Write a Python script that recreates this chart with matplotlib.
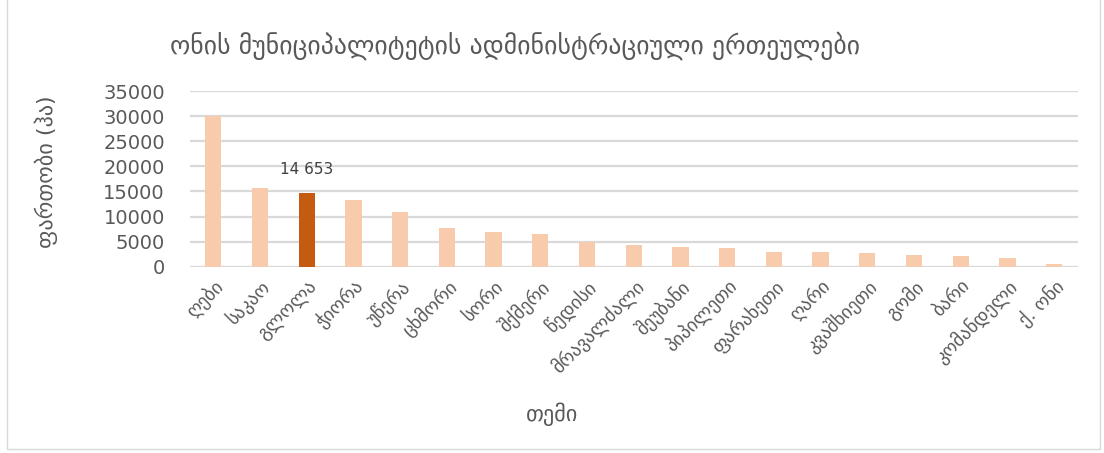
import numpy as np
import matplotlib.pyplot as plt
from matplotlib.patches import Rectangle

# Données
temebi = ["ღები", "საკაო", "გლოლა", "ჭიორა", "უწერა", "ცხმორი", "სორი", "შქმერი",
          "წედისი", "მრავალძალი", "შეუბანი", "პიპილეთი", "ფარახეთი", "ღარი",
          "კვაშხიეთი", "გომი", "ბარი", "კომანდელი", "ქ. ონი"]
fartobi = [30100, 15750, 14653, 13320, 10940, 7640, 6900, 6500,
           4850, 4330, 3930, 3670, 2930, 2870, 2730, 2270, 2130, 1730, 470]
highlight = "გლოლა"

grey = "#595959"
plt.rcParams['font.family'] = ['DejaVu Sans']

fig = plt.figure(figsize=(11.04, 4.53), dpi=100)
ax = fig.add_axes([0.172, 0.411, 0.804, 0.388])

x = np.arange(len(temebi))
colors = ["#C55A11" if t == highlight else "#F8CBAD" for t in temebi]
ax.bar(x, fartobi, width=0.35, color=colors, zorder=3)

# étiquette de la barre mise en avant
i = temebi.index(highlight)
ax.text(x[i], fartobi[i] + 3300, "14 653", ha='center', va='bottom',
        fontsize=11, color="#404040")

ax.set_ylim(0, 35000)
ax.set_yticks(np.arange(0, 35001, 5000))
ax.set_xlim(-0.5, len(temebi) - 0.5)
ax.set_xticks(x)
ax.set_xticklabels(temebi, rotation=45, ha='right', rotation_mode='anchor',
                   fontsize=13.5, color=grey)
ax.tick_params(axis='y', labelsize=14, labelcolor=grey, length=0, pad=18)
ax.tick_params(axis='x', length=0, pad=7)
ax.grid(axis='y', color="#D9D9D9", linewidth=1.6, zorder=0)
for s in ax.spines.values():
    s.set_visible(False)

fig.text(0.0415, 0.622, "ფართობი (ჰა)", rotation=90, ha='center', va='center',
         fontsize=16, color=grey)
fig.text(0.5, 0.085, "თემი", ha='center', va='center', fontsize=16, color=grey)
fig.text(0.154, 0.9, "ონის მუნიციპალიტეტის ადმინისტრაციული ერთეულები",
         ha='left', va='center', fontsize=18.5, color=grey)

# cadre du graphique
fig.patches.append(Rectangle((0.006, 0.008), 0.99, 1.2, transform=fig.transFigure,
                             fill=False, edgecolor="#D9D9D9", linewidth=1))

plt.savefig("out.png", dpi=100)
